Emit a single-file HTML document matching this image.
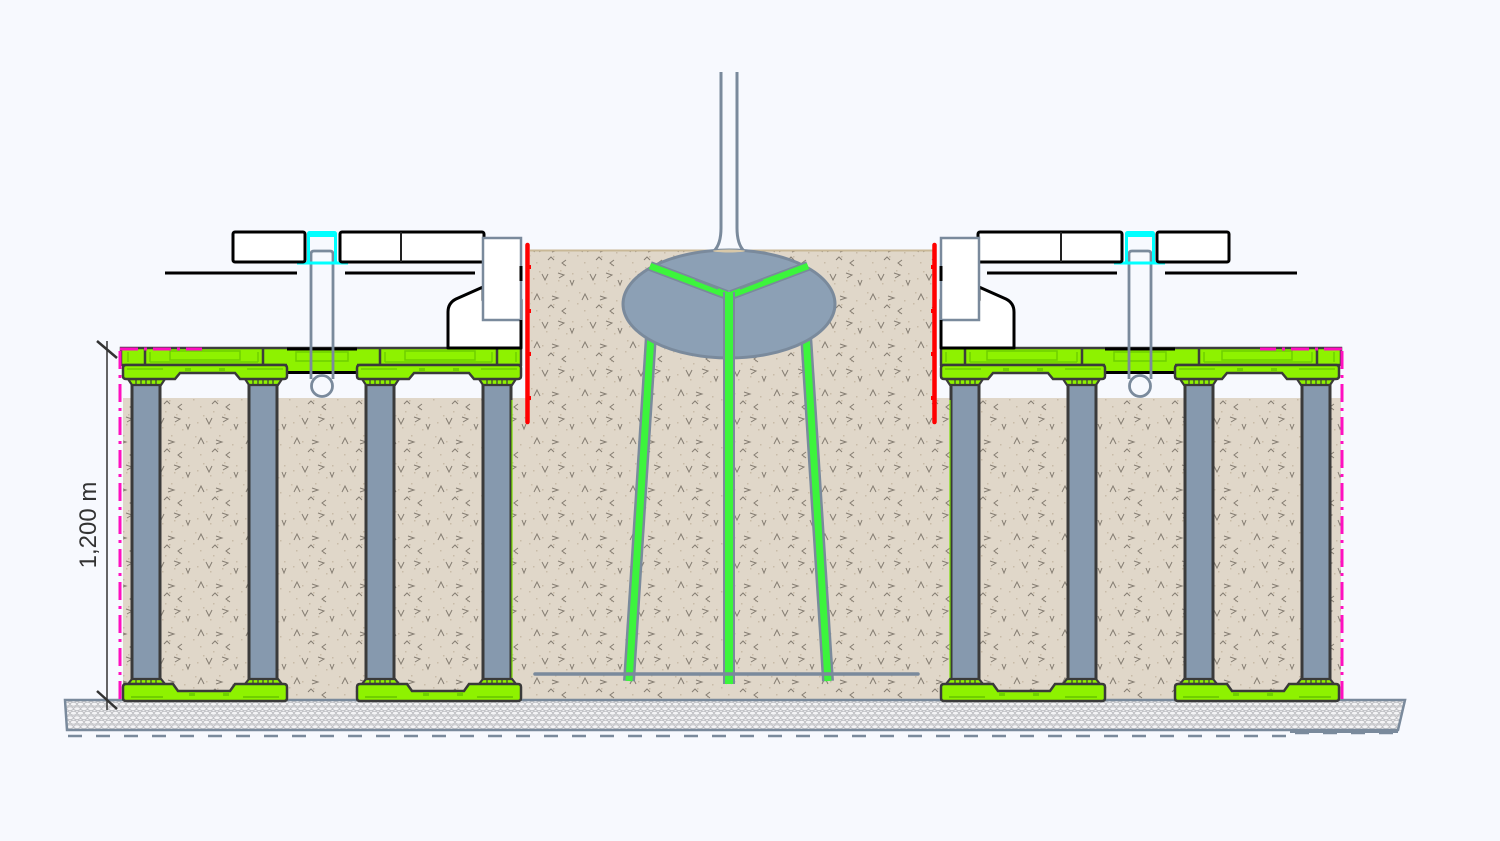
<!DOCTYPE html>
<html>
<head>
<meta charset="utf-8">
<style>
html,body{margin:0;padding:0;background:#f7f9fe;}
svg{display:block;}
</style>
</head>
<body>
<svg width="1500" height="841" viewBox="0 0 1500 841" xmlns="http://www.w3.org/2000/svg">
<defs>
  <pattern id="soil" width="48" height="48" patternUnits="userSpaceOnUse">
    <rect width="48" height="48" fill="#e0d7c9"/>
    <g fill="#c8bba8">
      <rect x="3" y="4" width="1.5" height="1.5"/><rect x="14" y="9" width="1.5" height="1.5"/>
      <rect x="27" y="3" width="1.5" height="1.5"/><rect x="40" y="12" width="1.5" height="1.5"/>
      <rect x="8" y="22" width="1.5" height="1.5"/><rect x="21" y="27" width="1.5" height="1.5"/>
      <rect x="35" y="24" width="1.5" height="1.5"/><rect x="44" y="33" width="1.5" height="1.5"/>
      <rect x="5" y="38" width="1.5" height="1.5"/><rect x="18" y="43" width="1.5" height="1.5"/>
      <rect x="30" y="40" width="1.5" height="1.5"/><rect x="11" y="31" width="1.5" height="1.5"/>
      <rect x="25" y="16" width="1.5" height="1.5"/><rect x="38" y="45" width="1.5" height="1.5"/>
      <rect x="1" y="15" width="1.5" height="1.5"/><rect x="32" y="30" width="1.5" height="1.5"/>
    </g>
    <g fill="none" stroke="#857d72" stroke-width="1">
      <path d="M6,12 L9,6 L12,12"/>
      <path d="M24,8 L30,10 L24,12"/>
      <path d="M38,20 L34,23 L38,26"/>
      <path d="M14,34 L17,40 L20,34"/>
      <path d="M30,33 L36,35 L31,38"/>
      <path d="M42,40 L44,45 L46,40"/>
      <path d="M20,20 L23,17 L26,20"/>
    </g>
  </pattern>
  <pattern id="gravel" width="14" height="9" patternUnits="userSpaceOnUse">
    <rect width="14" height="9" fill="#f4f4f6"/>
    <ellipse cx="3.5" cy="2.2" rx="3.3" ry="2" fill="none" stroke="#bfc0c4" stroke-width="1"/>
    <ellipse cx="10.5" cy="2.2" rx="3.3" ry="2" fill="none" stroke="#bfc0c4" stroke-width="1"/>
    <ellipse cx="7" cy="6.7" rx="3.3" ry="2" fill="none" stroke="#bfc0c4" stroke-width="1"/>
    <ellipse cx="0" cy="6.7" rx="3.3" ry="2" fill="none" stroke="#bfc0c4" stroke-width="1"/>
    <ellipse cx="14" cy="6.7" rx="3.3" ry="2" fill="none" stroke="#bfc0c4" stroke-width="1"/>
  </pattern>

  <!-- top crate head, local x 0..164 -->
  <g id="thead">
    <path d="M5,379 L9,385 H38 L42,379 Z" fill="#8ef200" stroke="#3a3a3a" stroke-width="2.2"/>
    <path d="M122,379 L126,385 H155 L159,379 Z" fill="#8ef200" stroke="#3a3a3a" stroke-width="2.2"/>
    <g stroke="#3a3a3a" stroke-width="1.2">
      <line x1="13" y1="380" x2="13" y2="384"/><line x1="18" y1="380" x2="18" y2="384"/><line x1="23" y1="380" x2="23" y2="384"/><line x1="28" y1="380" x2="28" y2="384"/><line x1="33" y1="380" x2="33" y2="384"/>
      <line x1="130" y1="380" x2="130" y2="384"/><line x1="135" y1="380" x2="135" y2="384"/><line x1="140" y1="380" x2="140" y2="384"/><line x1="145" y1="380" x2="145" y2="384"/><line x1="150" y1="380" x2="150" y2="384"/>
    </g>
    <path d="M3,365 H161 Q164,365 164,368 V376 Q164,379 161,379 H117 L112,373 H57 L52,379 H3 Q0,379 0,376 V368 Q0,365 3,365 Z" fill="#8ef200" stroke="#3a3a3a" stroke-width="2.5"/>
    <path d="M4,369 H40 M124,369 H160" stroke="#6fcf00" stroke-width="1.5"/>
    <rect x="62" y="368" width="6" height="3" fill="#6fcf00"/>
    <rect x="96" y="368" width="6" height="3" fill="#6fcf00"/>
  </g>

  <!-- bottom crate head -->
  <g id="bhead">
    <path d="M5,684 L9,679 H38 L42,684 Z" fill="#8ef200" stroke="#3a3a3a" stroke-width="2.2"/>
    <path d="M122,684 L126,679 H155 L159,684 Z" fill="#8ef200" stroke="#3a3a3a" stroke-width="2.2"/>
    <g stroke="#3a3a3a" stroke-width="1.2">
      <line x1="13" y1="680" x2="13" y2="684"/><line x1="18" y1="680" x2="18" y2="684"/><line x1="23" y1="680" x2="23" y2="684"/><line x1="28" y1="680" x2="28" y2="684"/><line x1="33" y1="680" x2="33" y2="684"/>
      <line x1="130" y1="680" x2="130" y2="684"/><line x1="135" y1="680" x2="135" y2="684"/><line x1="140" y1="680" x2="140" y2="684"/><line x1="145" y1="680" x2="145" y2="684"/><line x1="150" y1="680" x2="150" y2="684"/>
    </g>
    <path d="M3,684 H50 L55,691 H107 L112,684 H161 Q164,684 164,687 V698 Q164,701 161,701 H3 Q0,701 0,698 V687 Q0,684 3,684 Z" fill="#8ef200" stroke="#3a3a3a" stroke-width="2.5"/>
    <path d="M8,697 H40 M120,697 H156" stroke="#6fcf00" stroke-width="2"/>
    <rect x="66" y="692" width="6" height="4" fill="#6fcf00"/>
    <rect x="100" y="692" width="6" height="4" fill="#6fcf00"/>
  </g>

  <!-- one side (left) -->
  <g id="side">
    <!-- columns -->
    <g fill="#8699ae" stroke="#3a3a3a" stroke-width="3">
      <rect x="132" y="380" width="28" height="304"/>
      <rect x="249" y="380" width="28" height="304"/>
      <rect x="366" y="380" width="28" height="304"/>
      <rect x="483" y="380" width="28" height="304"/>
    </g>
    <line x1="512" y1="400" x2="512" y2="682" stroke="#7be000" stroke-width="1.2"/>
    <!-- top deck -->
    <rect x="121" y="348" width="400" height="17" fill="#8ef200" stroke="#3d3d3d" stroke-width="2.5"/>
    <g fill="none" stroke="#6fcf00" stroke-width="1.5">
      <rect x="170" y="351" width="70" height="9"/>
      <rect x="405" y="351" width="70" height="9"/>
      <path d="M150,352 V362 M258,352 V362 M385,352 V362 M492,352 V362 M128,352 V362 M516,352 V362"/>
      <path d="M150,362 H258 M385,362 H492"/>
    </g>
    <!-- black bar section -->
    <rect x="287" y="349" width="70" height="23" fill="#8ef200"/>
    <rect x="296" y="352" width="52" height="9" fill="none" stroke="#6fcf00" stroke-width="1.5"/>
    <line x1="287" y1="349" x2="357" y2="349" stroke="#000" stroke-width="3"/>
    <line x1="287" y1="372.5" x2="357" y2="372.5" stroke="#000" stroke-width="3"/>
    <g stroke="#3d3d3d" stroke-width="2.5">
      <line x1="145" y1="349" x2="145" y2="365"/>
      <line x1="263" y1="349" x2="263" y2="365"/>
      <line x1="380" y1="349" x2="380" y2="365"/>
      <line x1="497" y1="349" x2="497" y2="365"/>
    </g>
    <!-- heads -->
    <use href="#thead" transform="translate(123,0)"/>
    <use href="#thead" transform="translate(357,0)"/>
    <use href="#bhead" transform="translate(123,0)"/>
    <use href="#bhead" transform="translate(357,0)"/>

    <!-- pipe -->
    <g fill="none" stroke="#7a8a9c" stroke-width="2.8">
      <path d="M311,379 V254 Q311,251 314,251 H330 Q333,251 333,254 V379"/>
    </g>
    <circle cx="322" cy="386" r="10.5" fill="#f7f9fe" stroke="#7a8a9c" stroke-width="2.8"/>
    <!-- cyan clip -->
    <rect x="307" y="231" width="30" height="6" rx="2.5" fill="#00ffff"/>
    <g stroke="#00ffff" stroke-width="3" fill="none">
      <line x1="308.5" y1="234" x2="308.5" y2="263"/>
      <line x1="335.5" y1="234" x2="335.5" y2="263"/>
      <line x1="297" y1="263" x2="348" y2="263"/>
    </g>

    <!-- boxes -->
    <rect x="233" y="232" width="72" height="30" rx="2" fill="#ffffff" stroke="#000" stroke-width="3"/>
    <rect x="340" y="232" width="144" height="30" rx="2" fill="#ffffff" stroke="#000" stroke-width="3"/>
    <line x1="401" y1="232" x2="401" y2="262" stroke="#222" stroke-width="2"/>
    <line x1="165" y1="273" x2="297" y2="273" stroke="#000" stroke-width="3"/>
    <line x1="345" y1="273" x2="475" y2="273" stroke="#000" stroke-width="3"/>

    <!-- curb -->
    <path d="M483,287 L456,299 Q448,303 448,312 V348 H521 V300 H483 Z" fill="#ffffff" stroke="#000" stroke-width="3" stroke-linejoin="round"/>
    <rect x="483" y="238" width="38" height="82" fill="#ffffff" stroke="#7a8a9c" stroke-width="2.5"/>
    <line x1="521" y1="266" x2="521" y2="281" stroke="#000" stroke-width="3"/>
    <line x1="521" y1="320" x2="521" y2="348" stroke="#000" stroke-width="3"/>

    <!-- red line -->
    <line x1="527.5" y1="245" x2="527.5" y2="422" stroke="#ff0000" stroke-width="4.5" stroke-linecap="round"/>
    <g fill="#ff0000">
      <rect x="528" y="265" width="3" height="4"/>
      <rect x="528" y="309" width="3" height="4"/>
      <rect x="528" y="352" width="3" height="4"/>
      <rect x="528" y="396" width="3" height="4"/>
    </g>

    <!-- magenta dash-dot -->
    <g stroke="#ff10c0" stroke-width="3" fill="none" stroke-dasharray="18 6 3 6">
      <line x1="120" y1="351" x2="120" y2="699"/>
      <line x1="120" y1="349" x2="202" y2="349"/>
    </g>
  </g>
</defs>

<!-- background -->
<rect width="1500" height="841" fill="#f7f9fe"/>

<!-- soil -->
<rect x="123" y="398" width="1218" height="302" fill="url(#soil)"/>
<rect x="530" y="250" width="406" height="150" fill="url(#soil)"/>
<line x1="530" y1="250.5" x2="936" y2="250.5" stroke="#c9b896" stroke-width="2"/>

<!-- gravel slab -->
<path d="M65,700 H1405 L1398,730 H67 Z" fill="url(#gravel)" stroke="#7a8a9c" stroke-width="2.5"/>
<line x1="1290" y1="731.5" x2="1398" y2="731.5" stroke="#7a8a9c" stroke-width="3"/>
<line x1="68" y1="736" x2="1290" y2="736" stroke="#7a8a9c" stroke-width="2.5" stroke-dasharray="14 14"/>
<line x1="1295" y1="733" x2="1400" y2="733" stroke="#7a8a9c" stroke-width="2.5" stroke-dasharray="14 14"/>

<!-- center structure: legs -->
<g stroke-linecap="butt">
  <line x1="651" y1="335" x2="629" y2="681" stroke="#7a8a9c" stroke-width="12"/>
  <line x1="651" y1="335" x2="629" y2="681" stroke="#3cf53c" stroke-width="7"/>
  <line x1="806" y1="335" x2="828" y2="681" stroke="#7a8a9c" stroke-width="12"/>
  <line x1="806" y1="335" x2="828" y2="681" stroke="#3cf53c" stroke-width="7"/>
  <line x1="729" y1="300" x2="729" y2="684" stroke="#7a8a9c" stroke-width="12"/>
  <line x1="729" y1="300" x2="729" y2="684" stroke="#3cf53c" stroke-width="8"/>
</g>
<!-- rod -->
<line x1="535" y1="674" x2="918" y2="674" stroke="#7a8a9c" stroke-width="3.5" stroke-linecap="round"/>

<!-- mast -->
<path d="M721,72 V228 Q721,245 713,251 H745 Q737,245 737,228 V72 Z" fill="#f7f9fe"/>
<path d="M721,72 V228 Q721,244 714,251" fill="none" stroke="#7a8a9c" stroke-width="3"/>
<path d="M737,72 V228 Q737,244 744,251" fill="none" stroke="#7a8a9c" stroke-width="3"/>

<!-- ellipse head -->
<ellipse cx="729" cy="304" rx="106" ry="54" fill="#8ca0b5" stroke="#7a8a9c" stroke-width="3"/>
<ellipse cx="729" cy="251" rx="16" ry="1.5" fill="#d8c8a8"/>
<!-- ribs -->
<g stroke-linecap="butt">
  <line x1="650" y1="266" x2="727" y2="295" stroke="#7a8a9c" stroke-width="10"/>
  <line x1="650" y1="266" x2="727" y2="295" stroke="#3cf53c" stroke-width="6.5"/>
  <line x1="808" y1="266" x2="731" y2="295" stroke="#7a8a9c" stroke-width="10"/>
  <line x1="808" y1="266" x2="731" y2="295" stroke="#3cf53c" stroke-width="6.5"/>
  <line x1="729" y1="292" x2="729" y2="360" stroke="#7a8a9c" stroke-width="12"/>
  <line x1="729" y1="292" x2="729" y2="360" stroke="#3cf53c" stroke-width="8"/>
</g>
<path d="M695,280 L718,289 M763,280 L740,289" stroke="#7a8a9c" stroke-width="1.3"/>

<!-- sides -->
<use href="#side"/>
<use href="#side" transform="matrix(-1 0 0 1 1462 0)"/>

<!-- dimension -->
<g stroke="#333" stroke-width="1.5">
  <line x1="107" y1="341" x2="107" y2="710"/>
</g>
<g stroke="#333" stroke-width="2.5">
  <line x1="97" y1="341" x2="117" y2="358"/>
  <line x1="97" y1="691" x2="117" y2="709"/>
</g>
<text x="0" y="0" transform="translate(96,525) rotate(-90)" text-anchor="middle" font-family="'Liberation Sans', sans-serif" font-size="24" fill="#333">1,200 m</text>
</svg>
</body>
</html>
